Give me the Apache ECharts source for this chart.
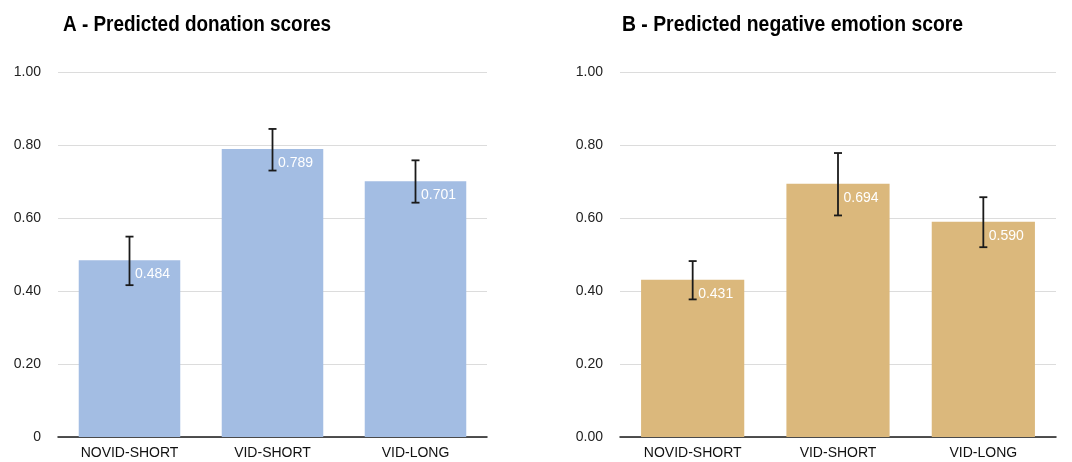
<!DOCTYPE html>
<html>
<head>
<meta charset="utf-8">
<script src="https://cdn.jsdelivr.net/npm/echarts@6/dist/echarts.min.js"></script>
<style>
  html, body { margin: 0; padding: 0; background: #fff; }
  #main { width: 1072px; height: 462px; }
</style>
</head>
<body>
<div id="main"></div>
<script>
// categories and values
var categories = ['NOVID-SHORT', 'VID-SHORT', 'VID-LONG'];
var yTicks = [0, 0.2, 0.4, 0.6, 0.8, 1.0];

var donationMeans = [0.484, 0.789, 0.701];
var donationLow = [0.416, 0.730, 0.642];
var donationHigh = [0.549, 0.844, 0.758];

var emotionMeans = [0.431, 0.694, 0.590];
var emotionLow = [0.377, 0.607, 0.520];
var emotionHigh = [0.482, 0.778, 0.657];

var chart = echarts.init(document.getElementById('main'));

// error bar drawn through the axis scale
function errorBarRender(params, api) {
    var x = api.value(0);
    var lo = api.coord([x, api.value(1)]);
    var hi = api.coord([x, api.value(2)]);
    var cap = 4;
    var st = { stroke: '#1a1a1a', lineWidth: 1.8 };
    return {
        type: 'group',
        children: [
            { type: 'line', shape: { x1: hi[0], y1: hi[1], x2: lo[0], y2: lo[1] }, style: st },
            { type: 'line', shape: { x1: hi[0] - cap, y1: hi[1], x2: hi[0] + cap, y2: hi[1] }, style: st },
            { type: 'line', shape: { x1: lo[0] - cap, y1: lo[1], x2: lo[0] + cap, y2: lo[1] }, style: st }
        ]
    };
}

function errData(low, high) {
    var out = [];
    for (var i = 0; i < low.length; i++) {
        out.push([i, low[i], high[i]]);
    }
    return out;
}

function yAxisFor(gridIndex, zeroLabel) {
    return {
        type: 'value',
        gridIndex: gridIndex,
        min: yTicks[0],
        max: yTicks[yTicks.length - 1],
        interval: 0.2,
        axisLine: { show: false },
        axisTick: { show: false },
        splitLine: { lineStyle: { color: '#dcdcdc', width: 1 } },
        axisLabel: {
            margin: 17,
            color: '#222',
            fontSize: 14,
            fontFamily: 'Liberation Sans, Arial, sans-serif',
            formatter: function (v) {
                if (v === 0) return zeroLabel;
                return v.toFixed(2);
            }
        }
    };
}

function xAxisFor(gridIndex) {
    return {
        type: 'category',
        gridIndex: gridIndex,
        data: categories,
        axisTick: { show: false },
        axisLine: { lineStyle: { color: '#1a1a1a', width: 1.5 } },
        axisLabel: {
            margin: 9,
            color: '#111',
            fontSize: 14,
            fontFamily: 'Liberation Sans, Arial, sans-serif'
        }
    };
}

function barSeries(idx, values, color) {
    return {
        type: 'bar',
        xAxisIndex: idx,
        yAxisIndex: idx,
        data: values,
        barCategoryGap: '29%',
        itemStyle: { color: color },
        label: {
            show: true,
            position: 'insideTop',
            distance: 7,
            offset: [23, 0],
            color: '#fff',
            fontSize: 14,
            fontFamily: 'Liberation Sans, Arial, sans-serif',
            formatter: function (p) { return p.value.toFixed(3); }
        },
        z: 2
    };
}

// condensed-looking titles: bold text squeezed horizontally
function titleText(text, x, sx) {
    return {
        type: 'text',
        x: x,
        y: 14,
        scaleX: sx,
        style: {
            text: text,
            fill: '#000',
            font: 'bold 22px "Liberation Sans", Arial, sans-serif'
        }
    };
}

var option = {
    backgroundColor: '#fff',
    animation: false,
    graphic: [
        titleText('A - Predicted donation scores', 63, 0.86),
        titleText('B - Predicted negative emotion score', 622, 0.88)
    ],
    grid: [
        { left: 58, right: 585, top: 72, bottom: 25 },
        { left: 620, right: 16, top: 72, bottom: 25 }
    ],
    xAxis: [xAxisFor(0), xAxisFor(1)],
    yAxis: [yAxisFor(0, '0'), yAxisFor(1, '0.00')],
    series: [
        barSeries(0, donationMeans, '#a3bde3'),
        barSeries(1, emotionMeans, '#dbb87c'),
        {
            type: 'custom',
            xAxisIndex: 0, yAxisIndex: 0,
            renderItem: errorBarRender,
            encode: { x: 0, y: [1, 2] },
            data: errData(donationLow, donationHigh),
            z: 5
        },
        {
            type: 'custom',
            xAxisIndex: 1, yAxisIndex: 1,
            renderItem: errorBarRender,
            encode: { x: 0, y: [1, 2] },
            data: errData(emotionLow, emotionHigh),
            z: 5
        }
    ]
};

chart.setOption(option);
</script>
</body>
</html>
